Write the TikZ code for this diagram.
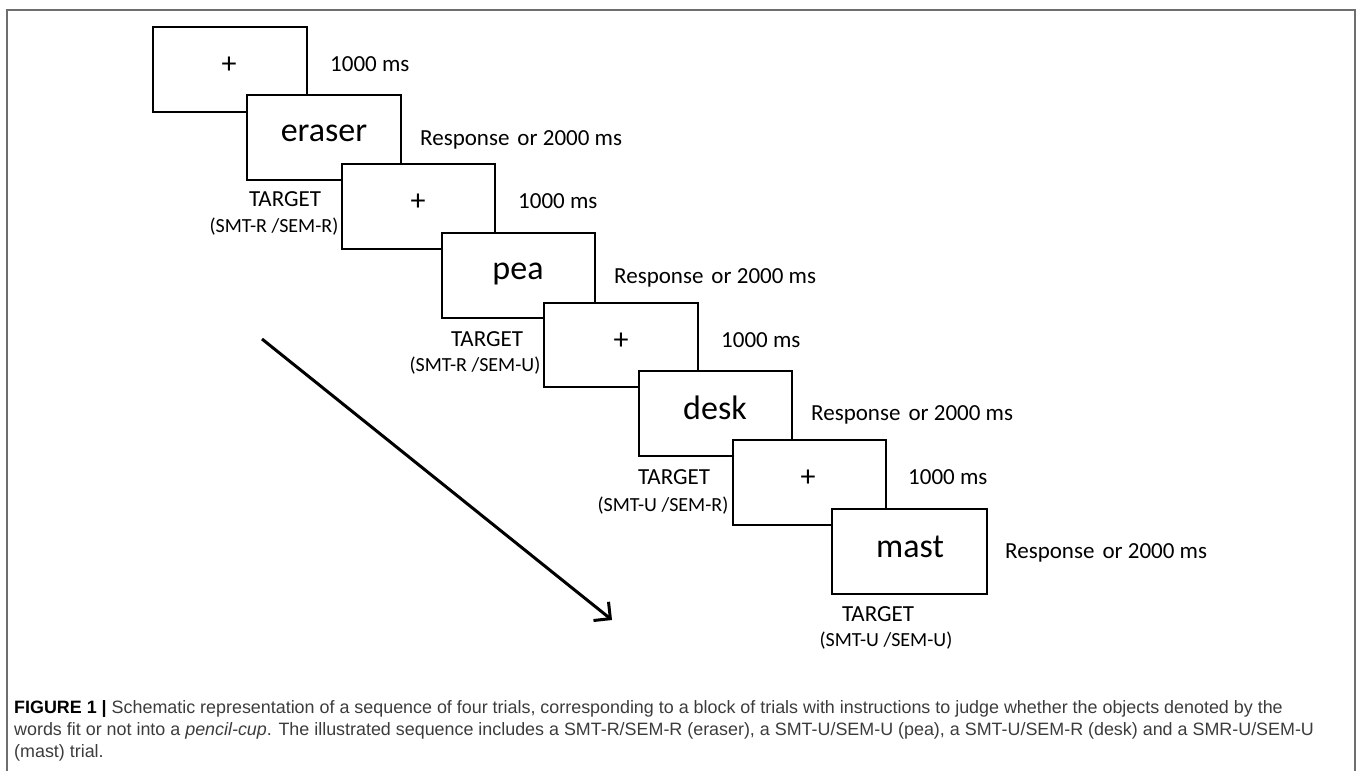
\documentclass[tikz,border=0pt]{standalone}
\usepackage{fontspec}
\setmainfont{Carlito}
\newfontfamily\capfont{Liberation Sans}
\usetikzlibrary{arrows.meta}
\definecolor{framegray}{RGB}{110,110,110}
\definecolor{captext}{RGB}{60,60,60}

\begin{document}
\begin{tikzpicture}[x=1pt, y=-1pt,
  trial/.style={line width=2pt, draw=black, fill=white},
  fix/.style={font=\fontsize{30}{34}\selectfont, inner sep=0pt},
  word/.style={font=\fontsize{34}{38}\selectfont, inner sep=0pt},
  timing/.style={font=\fontsize{23}{27}\selectfont, anchor=west, inner sep=0pt},
  target/.style={font=\fontsize{23}{27}\selectfont, inner sep=0pt},
  cond/.style={font=\fontsize{20}{24}\selectfont, inner sep=0pt}]
  \useasboundingbox (0,0) rectangle (1357,771);

  % Frame
  \draw[framegray, line width=1.5pt] (7,771) -- (7,10) -- (1355,10) -- (1355,771);

  % Trial 1 (eraser)
  \draw[trial] (153,27) rectangle (307,112);
  \node[fix] (plus1) at (229,65) {+};
  \node[timing] (fixtime1) at (330,64) {1000 ms};
  \draw[trial] (247,95) rectangle (401,180);
  \node[word] (eraser) at (324,133) {eraser};
  \node[timing] (resptime1) at (420,140) {Response\hspace{0.35em}or 2000 ms};
  \node[target] (target1) at (285,199) {TARGET};
  \node[cond] (cond1) at (274,227) {(SMT-R /SEM-R)};

  % Trial 2 (pea)
  \draw[trial] (342,164) rectangle (495,249);
  \node[fix] (plus2) at (418,202) {+};
  \node[timing] (fixtime2) at (518,201) {1000 ms};
  \draw[trial] (442,233) rectangle (595,318);
  \node[word] (pea) at (518,274) {pea};
  \node[timing] (resptime2) at (614,278) {Response\hspace{0.35em}or 2000 ms};
  \node[target] (target2) at (487,339) {TARGET};
  \node[cond] (cond2) at (475,366) {(SMT-R /SEM-U)};

  % Trial 3 (desk)
  \draw[trial] (544,303) rectangle (698,387);
  \node[fix] (plus3) at (621,341) {+};
  \node[timing] (fixtime3) at (721,340) {1000 ms};
  \draw[trial] (639,371) rectangle (792,456);
  \node[word] (desk) at (715,408) {desk};
  \node[timing] (resptime3) at (811,415) {Response\hspace{0.35em}or 2000 ms};
  \node[target] (target3) at (674,477) {TARGET};
  \node[cond] (cond3) at (663,506) {(SMT-U /SEM-R)};

  % Trial 4 (mast)
  \draw[trial] (733,440) rectangle (886,525);
  \node[fix] (plus4) at (808,478) {+};
  \node[timing] (fixtime4) at (908,477) {1000 ms};
  \draw[trial] (832,509) rectangle (987,594);
  \node[word] (mast) at (910,547) {mast};
  \node[timing] (resptime4) at (1005,553) {Response\hspace{0.35em}or 2000 ms};
  \node[target] (target4) at (878,614) {TARGET};
  \node[cond] (cond4) at (886,641) {(SMT-U /SEM-U)};

  % Time arrow
  \coordinate (timestart) at (262,339);
  \coordinate (timeend) at (612,620);
  \draw[line width=3pt, -{Straight Barb[length=12pt, width=24pt]}] (timestart) -- (timeend);

  % Caption
  \node[anchor=north west, align=left, inner sep=0pt, text=captext,
        font=\capfont\fontsize{17.9}{22}\selectfont] (caption) at (14,700)
    {\textcolor{black}{\bfseries FIGURE 1 |} Schematic representation of a sequence of four trials, corresponding to a block of trials with instructions to judge whether the objects denoted by the\\
     words fit or not into a \textit{pencil-cup}. The illustrated sequence includes a SMT-R/SEM-R (eraser), a SMT-U/SEM-U (pea), a SMT-U/SEM-R (desk) and a SMR-U/SEM-U\\
     (mast) trial.};
\end{tikzpicture}
\end{document}
